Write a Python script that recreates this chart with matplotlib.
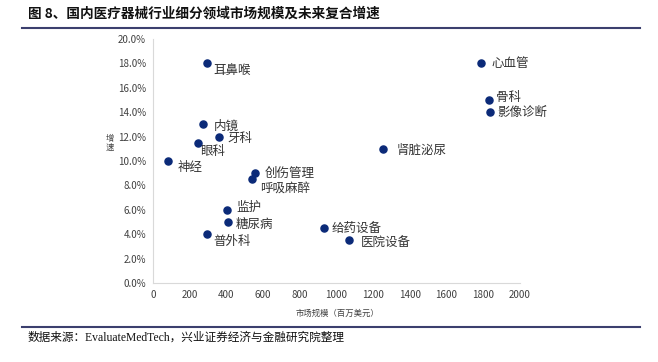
import matplotlib
matplotlib.use('Agg')
import matplotlib.pyplot as plt
from matplotlib.ticker import PercentFormatter
from matplotlib.lines import Line2D

plt.rcParams['font.family'] = ['Noto Sans CJK SC', 'DejaVu Sans']

# data
names = ['耳鼻喉', '心血管', '骨科', '影像诊断', '内镜', '牙科', '眼科', '肾脏泌尿',
         '神经', '创伤管理', '呼吸麻醉', '监护', '糖尿病', '普外科', '给药设备', '医院设备']
market = [294, 1787, 1831, 1837, 272, 360, 245, 1253,
          82, 556, 540, 403, 409, 294, 932, 1068]
growth = [18.0, 18.0, 15.0, 14.0, 13.0, 12.0, 11.5, 11.0,
          10.0, 9.0, 8.5, 6.0, 5.0, 4.0, 4.5, 3.5]
# label offsets in pixels (right, up)
offsets = [(6, -7), (11, 0), (7, 2), (7, 0), (11, -2), (8, -2), (2, -9), (14, -2),
           (10, -7), (10, 0), (8, -9), (9, 2), (8, -2), (6, -7), (8, 0), (12, -3)]

fig = plt.figure(figsize=(6.58, 3.62), dpi=100)
ax = fig.add_axes([0.2325, 0.2182, 0.5577, 0.6741])

ax.scatter(market, growth, s=26, color='#0b2a78', zorder=3)
for n, x, y, off in zip(names, market, growth, offsets):
    ax.annotate(n, (x, y), xytext=off, textcoords='offset pixels',
                fontsize=9, color='#333333', ha='left', va='center')

ax.set_xlim(0, 2000)
ax.set_ylim(0, 20)
ax.set_xticks(range(0, 2001, 200))
ax.set_yticks(range(0, 21, 2))
ax.yaxis.set_major_formatter(PercentFormatter(decimals=1))
ax.tick_params(length=0, labelsize=7, colors='#404040', pad=5)
for s in ['top', 'right']:
    ax.spines[s].set_visible(False)
for s in ['left', 'bottom']:
    ax.spines[s].set_color('#d9d9d9')

fig.text(337 / 658, 1 - 313 / 362, '市场规模（百万美元）', fontsize=6,
         ha='center', va='center', color='#404040')
fig.text(110 / 658, 1 - 143 / 362, '增\n速', fontsize=6,
         ha='center', va='center', color='#404040', linespacing=1.1)

fig.text(28 / 658, 1 - 14 / 362, '图 8、国内医疗器械行业细分领域市场规模及未来复合增速',
         fontsize=9.8, fontweight='bold', ha='left', va='center', color='#111111')
fig.add_artist(Line2D([22 / 658, 640 / 658], [1 - 28 / 362] * 2, color='#3b3f6e', lw=1.5))
fig.add_artist(Line2D([22 / 658, 640 / 658], [1 - 327 / 362] * 2, color='#3b3f6e', lw=1.5))
fig.text(28 / 658, 1 - 338 / 362, '数据来源：EvaluateMedTech，兴业证券经济与金融研究院整理',
         fontsize=8.4, ha='left', va='center', color='#111111',
         family=['Liberation Serif', 'Noto Sans CJK SC'])

fig.savefig('out.png', dpi=100)
